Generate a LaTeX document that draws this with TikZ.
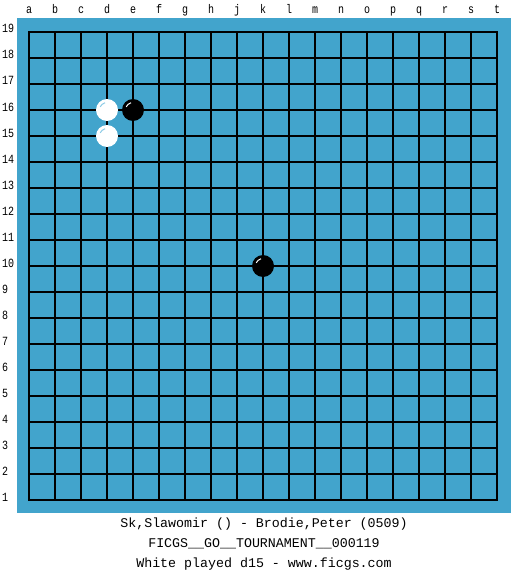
\documentclass[tikz,border=0pt]{standalone}
\usepackage{fontspec}
\setmonofont{Liberation Mono}
\newfontfamily\labelfont{Liberation Mono}[FakeStretch=0.8]
\definecolor{board}{HTML}{42A4CC}
\definecolor{shine}{HTML}{8CCBE6}

\begin{document}
\begin{tikzpicture}[x=1pt, y=-1pt,
  coordlabel/.style={font=\labelfont\fontsize{12.5}{14}\selectfont, inner sep=0pt},
  caption/.style={font=\ttfamily\fontsize{13.3}{16}\selectfont, inner sep=0pt, anchor=base},
  blackstone/.style={circle, fill=black, minimum size=22pt, inner sep=0pt},
  whitestone/.style={circle, fill=white, minimum size=22pt, inner sep=0pt},
  gridline/.style={line width=1.2pt, black},
]
  \useasboundingbox[fill=white] (0,0) rectangle (525,575);
  \fill[board] (17,18) rectangle (511,513);

  % board lines
  \foreach \i in {1,...,17} {
    \draw[gridline] (29+26*\i,32) -- (29+26*\i,500);
    \draw[gridline] (29,32+26*\i) -- (497,32+26*\i);
  }
  \draw[gridline] (29,32) rectangle (497,500);

  % coordinates
  \foreach \c [count=\i from 0] in {a,b,c,d,e,f,g,h,j,k,l,m,n,o,p,q,r,s,t}
    \node[coordlabel, anchor=base] (col-\c) at (29+26*\i,14) {\c};
  \foreach \r in {1,...,19}
    \node[coordlabel, anchor=base west] (row-\r) at (2,33+26*19-26*\r) {\r};

  % stones
  \node[whitestone] (d16) at (107,110) {};
  \node[whitestone] (d15) at (107,136) {};
  \node[blackstone] (e16) at (133,110) {};
  \node[blackstone] (k10) at (263,266) {};
  \draw[shine, line width=1pt] (d16.center) ++(155:7.5pt) arc[start angle=155, end angle=105, radius=7.5pt];
  \draw[shine, line width=1pt] (d15.center) ++(155:7.5pt) arc[start angle=155, end angle=105, radius=7.5pt];
  \draw[white, line width=1pt] (e16.center) ++(155:7.5pt) arc[start angle=155, end angle=105, radius=7.5pt];
  \draw[white, line width=1pt] (k10.center) ++(155:7.5pt) arc[start angle=155, end angle=105, radius=7.5pt];

  % game info
  \node[caption] (players) at (264,527) {Sk,Slawomir () - Brodie,Peter (0509)};
  \node[caption] (event) at (264,547) {FICGS\_\_GO\_\_TOURNAMENT\_\_000119};
  \node[caption] (lastmove) at (264,567) {White played d15 - www.ficgs.com};
\end{tikzpicture}
\end{document}
